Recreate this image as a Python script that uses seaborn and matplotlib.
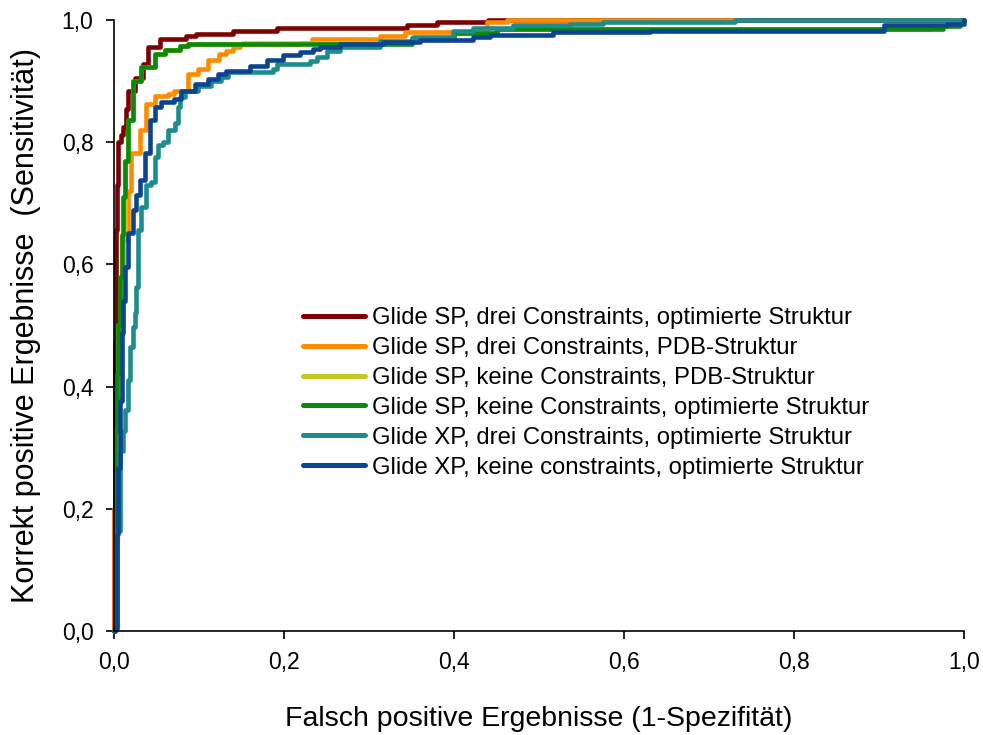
import numpy as np
import pandas as pd
import matplotlib
matplotlib.use("Agg")
import matplotlib.pyplot as plt
import seaborn as sns
from matplotlib.ticker import FuncFormatter

# ---- data ----
labels = [
    "Glide SP, drei Constraints, optimierte Struktur",
    "Glide SP, drei Constraints, PDB-Struktur",
    "Glide SP, keine Constraints, PDB-Struktur",
    "Glide SP, keine Constraints, optimierte Struktur",
    "Glide XP, drei Constraints, optimierte Struktur",
    "Glide XP, keine constraints, optimierte Struktur",
]
colors = ["#7F0000", "#FF8C00", "#C4C81E", "#0A8A0A", "#1C8C8C", "#0B4591"]

red_x = [0, 0.0, 0.001, 0.002, 0.003, 0.005, 0.008, 0.0106, 0.0135, 0.0165, 0.025, 0.034,
         0.04, 0.054, 0.085, 0.096, 0.14, 0.192, 0.345, 0.38, 0.44, 1.0]
red_y = [0, 0.2, 0.475, 0.656, 0.73, 0.8, 0.812, 0.825, 0.855, 0.884, 0.905, 0.928,
         0.956, 0.969, 0.974, 0.977, 0.982, 0.987, 0.992, 0.997, 1.0, 1.0]

orange_x = [0, 0.0005, 0.002, 0.006, 0.011, 0.0165, 0.020, 0.030, 0.038, 0.048, 0.064, 0.071,
            0.087, 0.099, 0.111, 0.124, 0.132, 0.14, 0.148, 0.22, 0.233, 0.313, 0.342, 0.439,
            0.462, 0.73]
orange_y = [0, 0.2, 0.33, 0.5, 0.64, 0.72, 0.782, 0.82, 0.862, 0.876, 0.879, 0.884,
            0.911, 0.92, 0.935, 0.944, 0.95, 0.956, 0.96, 0.963, 0.969, 0.974, 0.98, 0.997,
            1.0, 1.0]

yellow_x = [0, 0.001, 0.0015, 0.005, 0.009, 0.013, 0.0165, 0.022, 0.032, 0.048, 0.06, 0.078,
            0.087, 0.15, 0.35, 0.40, 0.45, 0.96, 0.985, 1.0]
yellow_y = [0, 0.15, 0.328, 0.5, 0.648, 0.77, 0.836, 0.90, 0.923, 0.944, 0.951, 0.957,
            0.96, 0.963, 0.97, 0.978, 0.985, 0.99, 1.0, 1.0]

green_x = [0, 0.001, 0.0015, 0.003, 0.005, 0.007, 0.009, 0.011, 0.013, 0.0165, 0.022, 0.032,
           0.048, 0.06, 0.078, 0.087, 0.35, 0.40, 0.45, 0.975, 0.995, 1.0]
green_y = [0, 0.15, 0.328, 0.42, 0.5, 0.58, 0.648, 0.71, 0.77, 0.836, 0.90, 0.923,
           0.944, 0.951, 0.957, 0.96, 0.97, 0.978, 0.985, 0.99, 1.0, 1.0]

teal_x = [0, 0.0012, 0.0035, 0.0071, 0.0106, 0.0126, 0.0165, 0.0185, 0.0224, 0.0244, 0.0259,
          0.0282, 0.0318, 0.0376, 0.0435, 0.0479, 0.0518, 0.0576, 0.0635, 0.0714, 0.0753,
          0.0773, 0.0831, 0.0988, 0.114, 0.126, 0.134, 0.187, 0.192, 0.231, 0.239, 0.251,
          0.266, 0.313, 0.352, 0.399, 0.422, 0.469, 0.536, 0.575, 0.73, 1.0]
teal_y = [0, 0.005, 0.164, 0.295, 0.328, 0.361, 0.41, 0.464, 0.497, 0.52, 0.563,
          0.656, 0.694, 0.73, 0.735, 0.776, 0.795, 0.80, 0.82, 0.831, 0.857,
          0.874, 0.884, 0.892, 0.90, 0.907, 0.915, 0.92, 0.928, 0.933, 0.94, 0.95,
          0.956, 0.966, 0.972, 0.982, 0.987, 0.991, 0.993, 0.997, 1.0, 1.0]

blue_x = [0, 0.0012, 0.0032, 0.0047, 0.0071, 0.0091, 0.011, 0.013, 0.0165, 0.022, 0.026,
          0.031, 0.036, 0.042, 0.048, 0.055, 0.071, 0.079, 0.095, 0.111, 0.122, 0.132,
          0.160, 0.180, 0.199, 0.219, 0.234, 0.242, 0.266, 0.316, 0.36, 0.422, 0.442,
          0.516, 0.63, 0.905, 0.98, 1.0]
blue_y = [0, 0.005, 0.159, 0.267, 0.377, 0.487, 0.54, 0.595, 0.651, 0.689, 0.713,
          0.738, 0.782, 0.836, 0.857, 0.866, 0.870, 0.884, 0.895, 0.903, 0.911, 0.917,
          0.925, 0.934, 0.942, 0.948, 0.953, 0.955, 0.961, 0.964, 0.967, 0.972, 0.975,
          0.98, 0.982, 0.991, 0.993, 1.0]

series_x = [red_x, orange_x, yellow_x, green_x, teal_x, blue_x]
series_y = [red_y, orange_y, yellow_y, green_y, teal_y, blue_y]

# ---- plot ----
sns.set_theme(style="ticks")
plt.rcParams["font.family"] = ["Liberation Sans", "DejaVu Sans"]
plt.rcParams["text.color"] = "black"
plt.rcParams["axes.labelcolor"] = "black"
plt.rcParams["xtick.color"] = "black"
plt.rcParams["ytick.color"] = "black"

fig = plt.figure(figsize=(9.83, 7.35), dpi=100)
ax = fig.add_axes([0.116, 0.1415, 0.865, 0.8313])

for lab, col, xs, ys in zip(labels, colors, series_x, series_y):
    df = pd.DataFrame({"x": xs, "y": ys})
    sns.lineplot(data=df, x="x", y="y", ax=ax, color=col, linewidth=3.3,
                 drawstyle="steps-post", sort=False, estimator=None,
                 label=lab, clip_on=False)

ax.set_xlim(0, 1)
ax.set_ylim(0, 1)
ticks = [0, 0.2, 0.4, 0.6, 0.8, 1.0]
ax.set_xticks(ticks)
ax.set_yticks(ticks)
fmt = FuncFormatter(lambda v, p: f"{v:.1f}".replace(".", ","))
ax.xaxis.set_major_formatter(fmt)
ax.yaxis.set_major_formatter(fmt)
ax.tick_params(axis="both", direction="out", length=5.8, width=1.2,
               labelsize=16.5, colors="black")
ax.tick_params(axis="x", pad=8.6)
ax.tick_params(axis="y", pad=9)
for s in ["top", "right"]:
    ax.spines[s].set_visible(False)
for s in ["left", "bottom"]:
    ax.spines[s].set_linewidth(1.2)
    ax.spines[s].set_color("black")

ax.set_xlabel("Falsch positive Ergebnisse (1-Spezifität)", fontsize=20.5, labelpad=23)
ax.set_ylabel("Korrekt positive Ergebnisse  (Sensitivität)", fontsize=22, labelpad=15)

leg = ax.legend(loc="upper left", bbox_to_anchor=(0.2224, 0.530), frameon=False,
                fontsize=17.2, handlelength=2.6, handletextpad=0.3,
                labelspacing=0.33, borderaxespad=0, borderpad=0)
for line in leg.get_lines():
    line.set_linewidth(3.6)

fig.savefig("out.png", dpi=100, facecolor="white")
